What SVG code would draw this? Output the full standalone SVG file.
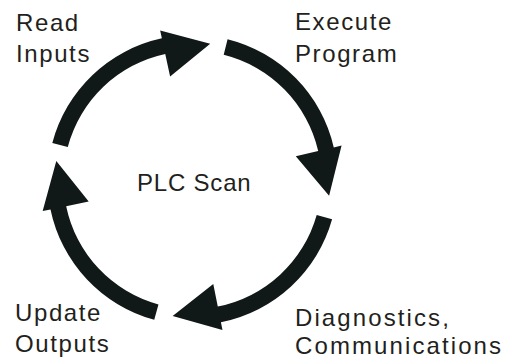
<svg xmlns="http://www.w3.org/2000/svg" xmlns:xlink="http://www.w3.org/1999/xlink" width="506" height="358" viewBox="0 0 506 358">
<style>
  .lbl { font-family: "Liberation Sans", Arial, sans-serif; font-size: 24px; fill: #231f20; letter-spacing: 1.6px; }
  .wide { letter-spacing: 2.1px; }
  .tight { letter-spacing: 0.8px; }
  .arr { fill: #111818; }
</style>
<defs>
  <path id="arrow" class="arr" d="M145,0 A145,145 0 0 1 65.83,129.20 L69.46,136.32 L17.71,136.36 L48.12,94.45 L58.56,114.94 A129,129 0 0 0 129,0 Z"/>
</defs>
<rect width="506" height="358" fill="#ffffff"/>
<g id="connectors">
  <use xlink:href="#arrow" transform="translate(192.5 180) rotate(194.8)"/>
  <use xlink:href="#arrow" transform="translate(192.5 180) rotate(284)"/>
  <use xlink:href="#arrow" transform="translate(192.5 180) rotate(15.7)"/>
  <use xlink:href="#arrow" transform="translate(192.5 180) rotate(105.3)"/>
</g>
<g id="read-inputs"><text class="lbl" x="16" y="30.5">Read</text><text class="lbl" x="16" y="62">Inputs</text></g>
<g id="execute-program"><text class="lbl" x="295" y="30">Execute</text><text class="lbl" x="295" y="62">Program</text></g>
<g id="diagnostics"><text class="lbl wide" x="295" y="326">Diagnostics,</text><text class="lbl wide" x="295" y="354">Communications</text></g>
<g id="update-outputs"><text class="lbl" x="15" y="320.5">Update</text><text class="lbl" x="15" y="352">Outputs</text></g>
<g id="plc-scan"><text class="lbl tight" x="137" y="191">PLC Scan</text></g>
</svg>
